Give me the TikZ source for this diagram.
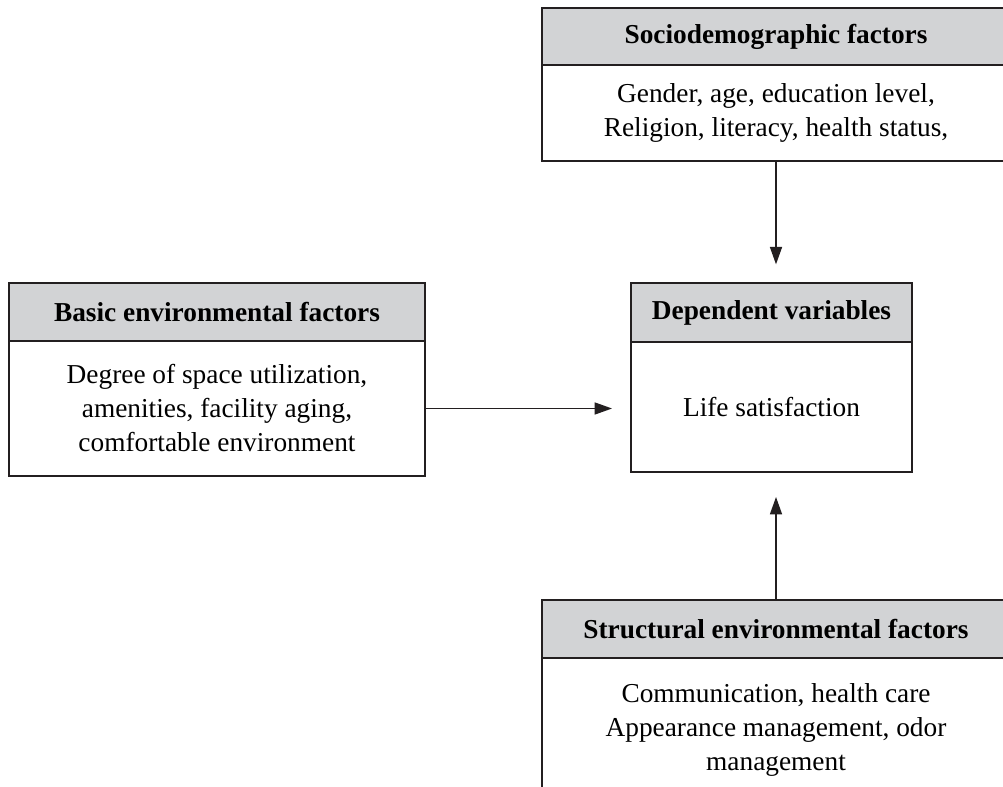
\documentclass[tikz,border=0pt]{standalone}
\usepackage{fontspec}
\setmainfont{Liberation Serif}
\usetikzlibrary{positioning,arrows.meta}
\definecolor{headgray}{RGB}{210,211,213}
\definecolor{linegray}{RGB}{35,31,32}
\tikzset{
  boxhead/.style={draw=linegray,fill=headgray,line width=1.1pt,inner sep=0pt,outer sep=0pt,
    align=center,font=\bfseries\fontsize{20.5}{25}\selectfont},
  boxbody/.style={draw=linegray,fill=white,line width=1.1pt,inner sep=0pt,outer sep=0pt,
    align=center,font=\fontsize{20.5}{25.5}\selectfont},
  arr/.style={draw=linegray,line width=1.1pt,-{Triangle[length=13pt,width=9pt]}}
}
\begin{document}
\begin{tikzpicture}[x=0.75pt,y=-0.75pt]
			\useasboundingbox (0,0) rectangle (1003,787);
			\clip (0,0) rectangle (1003,787);
			\fill [white] (0,0) rectangle (1003,787);
			\node [boxhead,minimum width=351pt,minimum height=42.75pt] (socioh) at (776,36.5) {Sociodemographic factors};
			\node [boxbody,minimum width=351pt,minimum height=72pt,below=0pt of socioh] (sociob)
				{Gender, age, education level,\\Religion, literacy, health status,};
			\node [boxhead,minimum width=210.75pt,minimum height=44.25pt] (deph) at (771.5,312.5) {Dependent variables};
			\node [boxbody,minimum width=210.75pt,minimum height=97.5pt,below=0pt of deph] (depb) {Life satisfaction};
			\node [boxhead,minimum width=312pt,minimum height=43.5pt] (basich) at (217,312) {Basic environmental factors};
			\node [boxbody,minimum width=312pt,minimum height=101.25pt,below=0pt of basich] (basicb)
				{Degree of space utilization,\\amenities, facility aging,\\comfortable environment};
			\node [boxhead,minimum width=351pt,minimum height=43.5pt] (structh) at (776,629) {Structural environmental factors};
			\node [boxbody,minimum width=351pt,minimum height=108pt,below=0pt of structh] (structb)
				{Communication, health care\\Appearance management, odor\\management};
			\draw [arr,shorten >=14pt] (sociob.south) -- (sociob.south |- deph.north);
			\draw [arr,shorten >=18.75pt] (structh.north) -- (structh.north |- depb.south);
			\draw [arr,shorten >=14.25pt] (basicb.east) -- (basicb.east -| depb.west);
\end{tikzpicture}
\end{document}
